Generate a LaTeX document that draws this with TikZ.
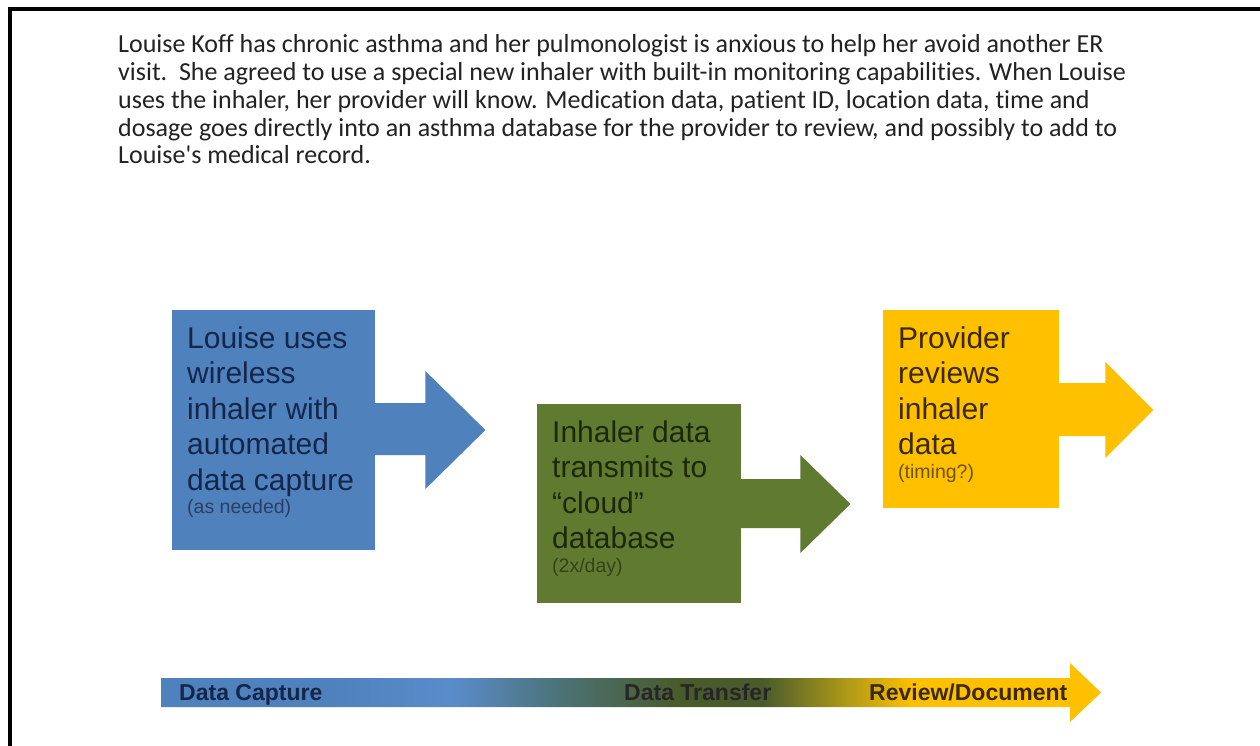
\documentclass[tikz,border=0pt]{standalone}
\usepackage{fontspec}
\setmainfont{Liberation Sans}
\newfontfamily\parafont[Ligatures=NoCommon]{Carlito}
\usetikzlibrary{calc}
\definecolor{cblue}{HTML}{4F81BD}
\definecolor{cbluelight}{HTML}{5A8CCB}
\definecolor{cteal}{HTML}{4B7379}
\definecolor{cgreen}{HTML}{607A30}
\definecolor{cdkgreen}{HTML}{4A5B2B}
\definecolor{colive}{HTML}{B09A18}
\definecolor{cyellow}{HTML}{FFC000}
\definecolor{tblue}{HTML}{14264A}
\definecolor{tgreen}{HTML}{1C280C}
\definecolor{tyellow}{HTML}{3A2904}
\definecolor{sblue}{HTML}{2A3E66}
\definecolor{sgreen}{HTML}{34431C}
\definecolor{syellow}{HTML}{6E5206}
\definecolor{ptext}{HTML}{222222}
\pgfdeclarehorizontalshading{barshade}{100bp}{color(0bp)=(cblue); color(25bp)=(cblue); color(34bp)=(cblue); color(40.5bp)=(cbluelight); color(46bp)=(cteal); color(52.5bp)=(cdkgreen); color(57bp)=(cdkgreen); color(61.5bp)=(colive); color(65bp)=(cyellow); color(75bp)=(cyellow); color(100bp)=(cyellow)}
\tikzset{
  box/.style={rectangle, draw=none, inner sep=0pt, anchor=north west},
  boxtext/.style={inner sep=0pt, anchor=base west, align=left, font=\fontsize{30}{35.5}\selectfont},
  smalltext/.style={inner sep=0pt, anchor=base west, font=\fontsize{19.5}{22}\selectfont},
  bartext/.style={inner sep=0pt, anchor=base west, font=\bfseries\fontsize{23}{26}\selectfont},
  para/.style={inner sep=0pt, anchor=base west, align=left, text=ptext, font=\parafont\fontsize{26}{27.7}\selectfont},
}
\begin{document}
\begin{tikzpicture}[x=1pt,y=-1pt]
\useasboundingbox (0,0) rectangle (1260,746);
\fill[white] (0,0) rectangle (1260,746);
% frame
\draw[line width=4pt] (10,760) -- (10,9) -- (1275,9);
% paragraph (anchor at baseline of last line)
\node[para] (para) at (118,163.8) {Louise Koff has chronic asthma and her pulmonologist is anxious to help her avoid another ER\\visit.\ \ She agreed to use a special new inhaler with built-in monitoring capabilities. When Louise\\uses the inhaler, her provider will know. Medication data, patient ID, location data, time and\\dosage goes directly into an asthma database for the provider to review, and possibly to add to\\Louise's medical record.};
% step 1
\node[box, fill=cblue, minimum width=203pt, minimum height=240pt] (b1) at (172,310) {};
\fill[cblue] ($(b1.north east)+(-1,93)$) -- ($(b1.north east)+(50,93)$) -- ($(b1.north east)+(50,61)$) -- ($(b1.north east)+(110,120)$) -- ($(b1.north east)+(50,179)$) -- ($(b1.north east)+(50,145)$) -- ($(b1.north east)+(-1,145)$) -- cycle;
\node[boxtext, text=tblue] (t1) at (187,490) {Louise uses\\wireless\\inhaler with\\automated\\data capture};
\node[smalltext, text=sblue] (s1) at (187,513) {(as needed)};
% step 2
\node[box, fill=cgreen, minimum width=204pt, minimum height=199pt] (b2) at (537,404) {};
\fill[cgreen] ($(b2.north east)+(-1,75)$) -- ($(b2.north east)+(59,75)$) -- ($(b2.north east)+(59,51)$) -- ($(b2.north east)+(109,100)$) -- ($(b2.north east)+(59,149)$) -- ($(b2.north east)+(59,124)$) -- ($(b2.north east)+(-1,124)$) -- cycle;
\node[boxtext, text=tgreen] (t2) at (552,548.5) {Inhaler data\\transmits to\\``cloud''\\database};
\node[smalltext, text=sgreen] (s2) at (552,572) {(2x/day)};
% step 3
\node[box, fill=cyellow, minimum width=176pt, minimum height=198pt] (b3) at (883,310) {};
\fill[cyellow] ($(b3.north east)+(-1,73)$) -- ($(b3.north east)+(46,73)$) -- ($(b3.north east)+(46,52)$) -- ($(b3.north east)+(94,100)$) -- ($(b3.north east)+(46,148)$) -- ($(b3.north east)+(46,126)$) -- ($(b3.north east)+(-1,126)$) -- cycle;
\node[boxtext, text=tyellow] (t3) at (898,454.5) {Provider\\reviews\\inhaler\\data};
\node[smalltext, text=syellow] (s3) at (898,478) {(timing?)};
% timeline bar
\coordinate (barstart) at (161,692.5);
\coordinate (bartip) at (1101,692.5);
\path[shading=barshade] ($(barstart)+(0,-14.5)$) -- ($(bartip)+(-31,-14.5)$) -- ($(bartip)+(-31,-29.5)$) -- (bartip) -- ($(bartip)+(-31,29.5)$) -- ($(bartip)+(-31,14.5)$) -- ($(barstart)+(0,14.5)$) -- cycle;
\node[bartext, text=tblue] (l1) at (179,700.5) {Data Capture};
\node[bartext, text=black!85] (l2) at (624,700.5) {Data Transfer};
\node[bartext, text=tyellow] (l3) at (869,700.5) {Review/Document};
\end{tikzpicture}
\end{document}
